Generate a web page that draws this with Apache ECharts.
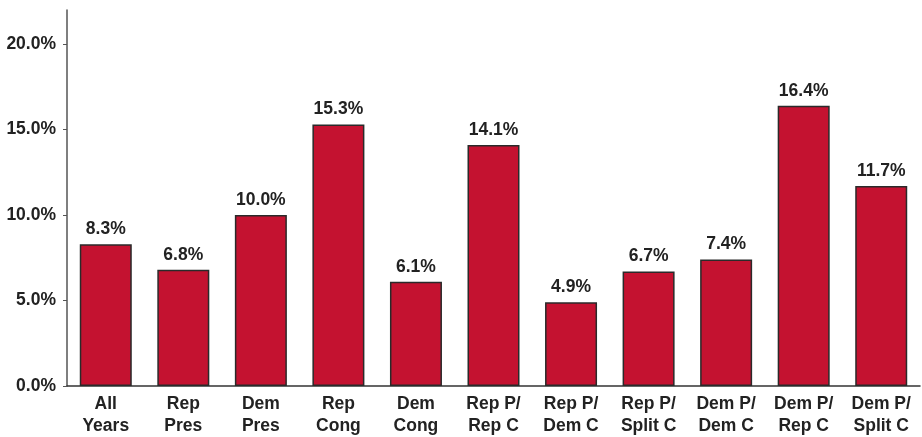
<!DOCTYPE html>
<html>
<head>
<meta charset="utf-8">
<script src="https://cdn.jsdelivr.net/npm/echarts@6/dist/echarts.min.js"></script>
<style>html,body{margin:0;padding:0;background:#fff}#c{width:922px;height:437px}</style>
</head>
<body>
<div id="c"></div>
<script>
const categories = ["All\nYears", "Rep\nPres", "Dem\nPres", "Rep\nCong", "Dem\nCong", "Rep P/\nRep C", "Rep P/\nDem C", "Rep P/\nSplit C", "Dem P/\nDem C", "Dem P/\nRep C", "Dem P/\nSplit C"];
const values = [8.3, 6.8, 10.0, 15.3, 6.1, 14.1, 4.9, 6.7, 7.4, 16.4, 11.7];
const yTicks = [0, 5, 10, 15, 20];

const chart = echarts.init(document.getElementById('c'), null, {renderer: 'canvas'});
const font = '"Liberation Sans", Arial, Helvetica, sans-serif';
chart.setOption({
  animation: false,
  grid: {left: 67, right: 2, top: 10, bottom: 51, containLabel: false},
  xAxis: {
    type: 'category',
    data: categories,
    axisLine: {show: true, lineStyle: {color: '#333', width: 1.5}},
    axisTick: {show: false},
    axisLabel: {color: '#222', fontFamily: font, fontWeight: 'bold', fontSize: 17.5, lineHeight: 22, margin: 7, interval: 0}
  },
  yAxis: {
    type: 'value',
    min: 0, max: 22, interval: 5,
    splitLine: {show: false},
    axisLine: {show: true, lineStyle: {color: '#555', width: 1.5}},
    axisTick: {show: true, length: 4, lineStyle: {color: '#555'}, customValues: yTicks},
    axisLabel: {color: '#222', fontFamily: font, fontWeight: 'bold', fontSize: 17.5, margin: 11,
      customValues: yTicks,
      formatter: v => v.toFixed(1) + '%'}
  },
  series: [{
    type: 'bar',
    data: values,
    barWidth: 52,
    itemStyle: {color: '#C41230', borderColor: '#2a2a2a', borderWidth: 1.5},
    label: {show: true, position: 'top', distance: 6, color: '#222', fontFamily: font, fontWeight: 'bold', fontSize: 17.5,
      formatter: p => p.value.toFixed(1) + '%'}
  }]
});
</script>
</body>
</html>
